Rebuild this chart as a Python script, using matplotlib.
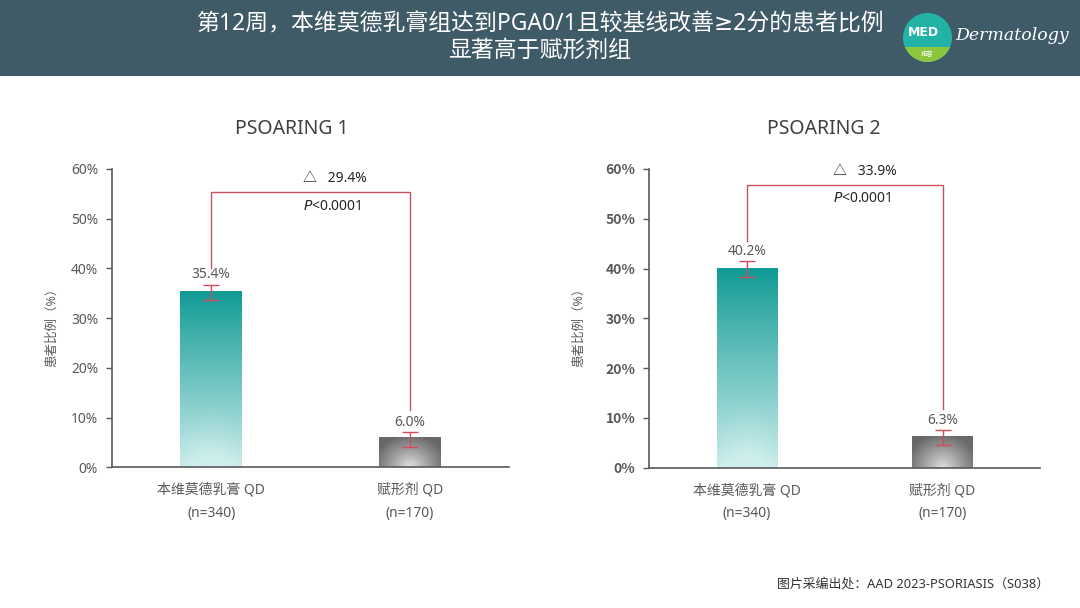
import numpy as np
import matplotlib
matplotlib.use("Agg")
import matplotlib.pyplot as plt
import matplotlib.transforms as mtrans
from matplotlib.patches import Rectangle, Circle

plt.rcParams['font.family'] = ['Noto Sans', 'Noto Sans CJK SC', 'DejaVu Sans']

# ---------------- data ----------------
categories = ['本维莫德乳膏 QD', '赋形剂 QD']
n_labels = ['(n=340)', '(n=170)']
study_titles = ['PSOARING 1', 'PSOARING 2']
values_1 = [35.4, 6.0]
values_2 = [40.2, 6.3]
err_low_1 = [1.7, 2.0]
err_high_1 = [1.3, 1.0]
err_low_2 = [1.85, 1.8]
err_high_2 = [1.3, 1.25]
delta_1 = 29.4
delta_2 = 33.9
p_text = 'P<0.0001'
yticks = [0, 10, 20, 30, 40, 50, 60]
ytick_labels = ['0%', '10%', '20%', '30%', '40%', '50%', '60%']

W, H = 1080, 608
fig = plt.figure(figsize=(W / 100, H / 100), dpi=100)
fig.patch.set_facecolor('white')

# header band
fig.patches.append(Rectangle((0, 1 - 76 / H), 1, 76 / H, transform=fig.transFigure,
                             facecolor='#3f5b67', edgecolor='none', zorder=-5))
fig.text(541 / W, 1 - 24 / H, '第12周，本维莫德乳膏组达到PGA0/1且较基线改善≥2分的患者比例',
         ha='center', va='center', color='white', fontsize=16.5,
         family=['Noto Sans', 'DejaVu Sans', 'Noto Sans CJK SC'])
fig.text(540 / W, 1 - 51 / H, '显著高于赋形剂组', ha='center', va='center',
         color='white', fontsize=16.5)

# logo
lax = fig.add_axes([903 / W, 1 - 62 / H, 49 / W, 49 / H])
lax.set_xlim(0, 1); lax.set_ylim(0, 1); lax.axis('off')
circ = Circle((0.5, 0.5), 0.5, facecolor='#22b3a6', edgecolor='none')
lax.add_patch(circ)
green = Rectangle((0, 0), 1, 0.3, facecolor='#8cc63f', edgecolor='none')
lax.add_patch(green)
green.set_clip_path(circ)
lax.text(0.42, 0.6, 'MED', color='white', fontsize=9, fontweight='bold',
         ha='center', va='center', family=['DejaVu Sans'])
lax.text(0.5, 0.15, '拓普', color='white', fontsize=4.5, ha='center', va='center')
fig.text(1012 / W, 1 - 35 / H, 'Dermatology', color='white', fontsize=12.5,
         style='italic', ha='center', va='center', family=['DejaVu Serif'])

# footer
fig.text(777 / W, 1 - 584 / H, '图片采编出处：AAD 2023-PSORIASIS（S038）',
         ha='left', va='center', color='#333333', fontsize=9.3)


def teal_grad(nx=60, ny=200):
    v = np.linspace(0, 1, ny)[:, None]          # 0 top -> 1 bottom
    u = np.linspace(0, 1, nx)[None, :]
    top = np.array([15, 154, 148]) / 255
    bot = np.array([206, 238, 236]) / 255
    t = v ** 0.95
    rad = np.clip(1 - np.sqrt(((u - 0.5) / 0.6) ** 2 + ((1 - v) / 0.35) ** 2), 0, 1)
    t = np.clip(t + 0.08 * rad - 0.04 * (1 - rad) * v, 0, 1)
    img = top[None, None, :] * (1 - t[..., None]) + bot[None, None, :] * t[..., None]
    return img


def gray_grad(nx=80, ny=60):
    v = np.linspace(0, 1, ny)[:, None]
    u = np.linspace(0, 1, nx)[None, :]
    d = np.sqrt(((u - 0.5) / 0.6) ** 2 + ((1 - v) / 1.1) ** 2)
    d = np.clip(d, 0, 1) ** 0.9
    light = np.array([228, 228, 228]) / 255
    dark = np.array([104, 104, 104]) / 255
    img = light[None, None, :] * (1 - d[..., None]) + dark[None, None, :] * d[..., None]
    return img


panels = [
    dict(rect=[112 / W, (H - 467.3) / H, 397 / W, 298.3 / H], values=values_1,
         lo=err_low_1, hi=err_high_1, delta=delta_1, title=study_titles[0], title_x=291.5,
         bold=False, top=55.4, leg_off=[4.7, 5.5], dx=0.46, dy=[58.0, 52.4], ylab_x=-0.135),
    dict(rect=[649.3 / W, (H - 467.7) / H, 391 / W, 298.7 / H], values=values_2,
         lo=err_low_2, hi=err_high_2, delta=delta_2, title=study_titles[1], title_x=823.5,
         bold=True, top=56.8, leg_off=[5.4, 5.5], dx=0.44, dy=[59.4, 54.0], ylab_x=-0.165),
]

x = np.arange(len(categories))
bar_w = 0.31
err_color = '#d24b5c'
line_color = '#c9505c'
txt_gray = '#595959'

for p in panels:
    ax = fig.add_axes(p['rect'])
    vals = p['values']
    bars = ax.bar(x, vals, width=bar_w, facecolor='none', edgecolor='none', zorder=2)
    for i, b in enumerate(bars):
        img = teal_grad() if i == 0 else gray_grad()
        im = ax.imshow(img, extent=[b.get_x(), b.get_x() + b.get_width(), 0, b.get_height()],
                       aspect='auto', zorder=2, interpolation='bilinear')
        im.set_clip_path(b)
    ax.errorbar(x, vals, yerr=[p['lo'], p['hi']], fmt='none', ecolor=err_color,
                elinewidth=1.0, capsize=6, capthick=1.0, zorder=3)
    for i, v in enumerate(vals):
        ax.text(x[i], v + p['hi'][i] + 0.5, f'{v:.1f}%', ha='center', va='bottom',
                fontsize=10, color=txt_gray, zorder=4)
    # bracket
    yl = vals[0] + p['leg_off'][0]
    yr = vals[1] + p['leg_off'][1]
    ax.plot([x[0], x[0], x[1], x[1]], [yl, p['top'], p['top'], yr], color=line_color,
            lw=1.0, zorder=3, solid_joinstyle='miter')
    ax.text(p['dx'], p['dy'][0], f'\u25b3   {p["delta"]:.1f}%', ha='left', va='center',
            fontsize=10, color='#262626')
    ax.text(p['dx'], p['dy'][1], r'$P$' + '<0.0001', ha='left', va='center',
            fontsize=10, color='#262626')
    ax.set_xlim(-0.5, 1.5)
    ax.set_ylim(0, 60)
    ax.set_yticks(yticks)
    if p['bold']:
        ax.set_yticklabels(ytick_labels, fontsize=10, color=txt_gray, fontweight='bold',
                           family=['Noto Sans CJK SC', 'DejaVu Sans'])
    else:
        ax.set_yticklabels(ytick_labels, fontsize=10, color=txt_gray)
    ax.set_xticks([])
    ax.tick_params(axis='y', length=4, width=1, color=txt_gray, pad=6)
    for s in ['top', 'right']:
        ax.spines[s].set_visible(False)
    for s in ['left', 'bottom']:
        ax.spines[s].set_color(txt_gray)
        ax.spines[s].set_linewidth(1.2)
    ax.set_ylabel('患者比例（%）', fontsize=9, color=txt_gray)
    ax.yaxis.set_label_coords(p['ylab_x'], 0.48)
    tr = mtrans.blended_transform_factory(ax.transData, ax.transAxes)
    for i in range(len(categories)):
        ax.text(x[i], -23 / 298, categories[i], transform=tr, ha='center', va='center',
                fontsize=10, color=txt_gray)
        ax.text(x[i], -46 / 298, n_labels[i], transform=tr, ha='center', va='center',
                fontsize=10, color=txt_gray)
    fig.text(p['title_x'] / W, 1 - 129 / H, p['title'], ha='center', va='center',
             fontsize=14, color='#404040')

fig.savefig('out.png', dpi=100)
